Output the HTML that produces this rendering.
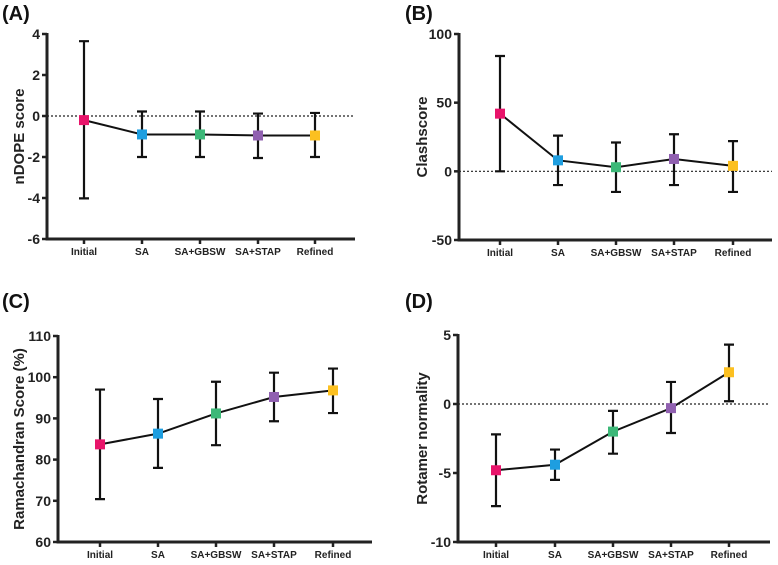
<!DOCTYPE html>
<html><head><meta charset="utf-8"><style>
body{margin:0;background:#fff;}
svg{display:block;font-family:"Liberation Sans",Arial,sans-serif;}
</style></head><body>
<svg id="c" width="778" height="565" viewBox="0 0 778 565"></svg>
<script>
const categories=["Initial","SA","SA+GBSW","SA+STAP","Refined"];
const colors=["#e8146a","#1e9ee0","#3cb878","#9060b0","#fcc020"];
const aMean=[-0.2,-0.9,-0.9,-0.95,-0.95];
const aHi=[3.65,0.22,0.22,0.12,0.15];
const aLo=[-4.02,-2.0,-2.0,-2.05,-2.0];
const aTicks=[4,2,0,-2,-4,-6];
const bMean=[42,8,3,9,4];
const bHi=[84,26,21,27,22];
const bLo=[0,-10,-15,-10,-15];
const bTicks=[100,50,0,-50];
const cMean=[83.7,86.3,91.2,95.2,96.8];
const cHi=[97,94.7,98.9,101.1,102.1];
const cLo=[70.4,78,83.5,89.3,91.3];
const cTicks=[110,100,90,80,70,60];
const dMean=[-4.8,-4.4,-2,-0.3,2.3];
const dHi=[-2.2,-3.3,-0.5,1.6,4.3];
const dLo=[-7.4,-5.5,-3.6,-2.1,0.2];
const dTicks=[5,0,-5,-10];

const svg=document.getElementById('c');
const NS='http://www.w3.org/2000/svg';
function mk(tag,attrs,parent){const e=document.createElementNS(NS,tag);for(const k in attrs)e.setAttribute(k,attrs[k]);parent.appendChild(e);return e;}

function panel(id,label,ytitle,mean,hi,lo,ticks,ax,ytop,ybot,xend,xs,zero,lx,ly){
  const g=mk('g',{},svg);
  
  
  const ymax=Math.max(...ticks),ymin=Math.min(...ticks);
  const y=v=>ytop+(ymax-v)/(ymax-ymin)*(ybot-ytop);
  const t=mk('text',{x:lx,y:ly,'font-size':20,'font-weight':'bold',fill:'#111'},g);t.textContent='('+label+')';
  
  
  if(zero){const z=mk('line',{x1:ax,x2:xend,y1:y(0),y2:y(0),stroke:'#222','stroke-width':1.2,'stroke-dasharray':'2,2'},g);
    
    }
  const ya=mk('line',{x1:ax,x2:ax,y1:ytop-1,y2:ybot+1,stroke:'#222','stroke-width':3},g);
  
  
  const xa=mk('line',{x1:ax-1.5,x2:xend,y1:ybot,y2:ybot,stroke:'#222','stroke-width':3},g);
  
  
  ticks.forEach(v=>{
    mk('line',{x1:ax-5,x2:ax,y1:y(v),y2:y(v),stroke:'#222','stroke-width':2.5},g);
    const tl=mk('text',{x:ax-7,y:y(v)+5,'font-size':14,'font-weight':'bold','text-anchor':'end',fill:'#222'},g);
    tl.textContent=v;
    
    
  });
  const yt=mk('text',{transform:`translate(${lx+22},${(ytop+ybot)/2}) rotate(-90)`,'font-size':15,'font-weight':'bold','text-anchor':'middle',fill:'#222'},g);
  yt.textContent=ytitle;
  
  
  categories.forEach((c,i)=>{
    mk('line',{x1:xs[i],x2:xs[i],y1:ybot,y2:ybot+5,stroke:'#222','stroke-width':2.5},g);
    const cl=mk('text',{x:xs[i],y:ybot+16,'font-size':10,'font-weight':'bold','text-anchor':'middle',fill:'#222'},g);
    cl.textContent=c;
    
    
  });
  const pl=mk('polyline',{points:mean.map((m,i)=>xs[i]+','+y(m)).join(' '),fill:'none',stroke:'#111','stroke-width':2},g);
  
  
  mean.forEach((m,i)=>{
    const eb=mk('path',{d:`M${xs[i]},${y(hi[i])}V${y(lo[i])}M${xs[i]-5},${y(hi[i])}H${xs[i]+5}M${xs[i]-5},${y(lo[i])}H${xs[i]+5}`,stroke:'#111','stroke-width':2.2,fill:'none'},g);
    
    
    const p=mk('rect',{x:xs[i]-5,y:y(m)-5,width:10,height:10,fill:colors[i]},g);
    
    
  });
}
panel('a','A','nDOPE score',aMean,aHi,aLo,aTicks,47,34,239,355,[84,142,200,258,315],true,2,20);
panel('b','B','Clashscore',bMean,bHi,bLo,bTicks,459,34,240,772,[500,558,616,674,733],true,405,20);
panel('c','C','Ramachandran Score (%)',cMean,cHi,cLo,cTicks,58,336,542,372,[100,158,216,274,333],false,2,308);
panel('d','D','Rotamer normality',dMean,dHi,dLo,dTicks,458,335,542,770,[496,555,613,671,729],true,405,308);
</script>
</body></html>
